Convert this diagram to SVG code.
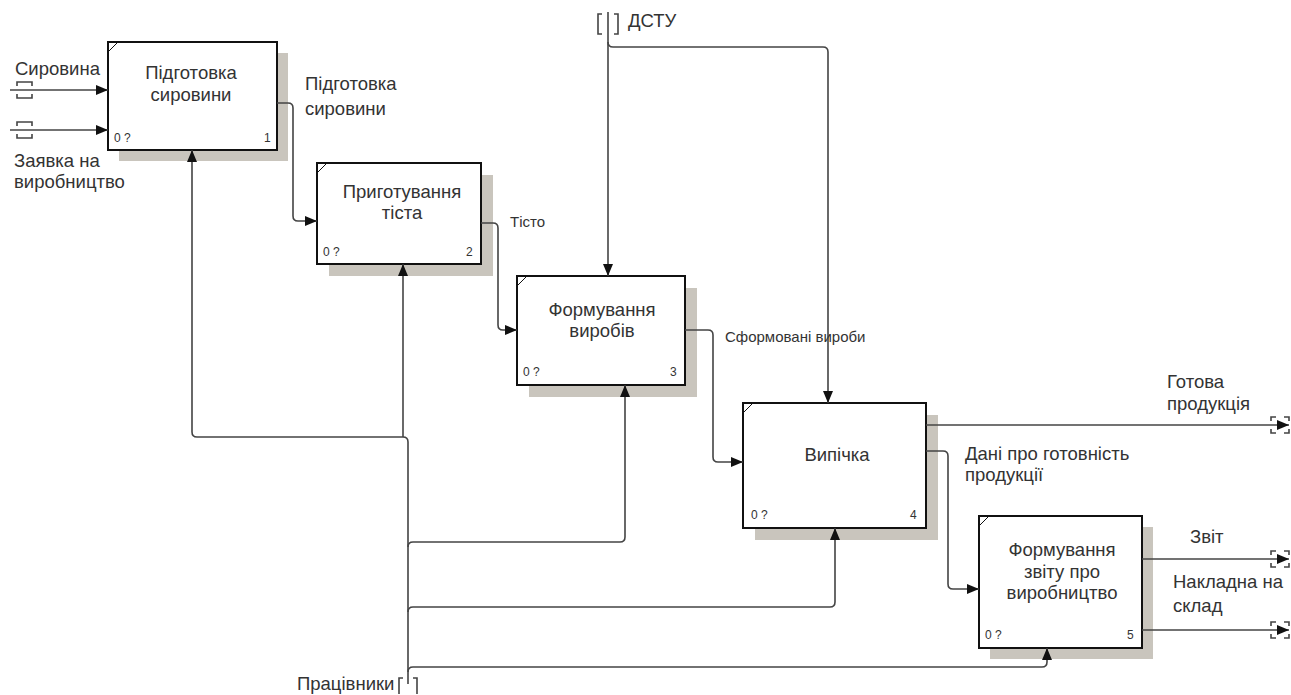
<svg xmlns="http://www.w3.org/2000/svg" width="1291" height="695" viewBox="0 0 1291 695">
  <defs>
    <marker id="arrow" viewBox="0 0 12 10" refX="12" refY="5" markerWidth="12" markerHeight="10" markerUnits="userSpaceOnUse" orient="auto">
      <path d="M0,0 L12,5 L0,10 Z" fill="#111"/>
    </marker>
    <style>
      .shadow { fill: #c9c5bd; }
      .box { fill: #ffffff; stroke: #111; stroke-width: 2; }
      .corner { fill: none; stroke: #111; stroke-width: 1; }
      .title { font-family: "Liberation Sans", Arial, sans-serif; font-size: 18.5px; fill: #333; text-anchor: middle; }
      .num { font-family: "Liberation Sans", Arial, sans-serif; font-size: 12px; fill: #333; }
      .lbl { font-family: "Liberation Sans", Arial, sans-serif; font-size: 18.5px; fill: #333; }
      .small { font-family: "Liberation Sans", Arial, sans-serif; font-size: 15px; fill: #333; }
      .wire { fill: none; stroke: #444; stroke-width: 1.6; }
      .arr { marker-end: url(#arrow); }
      .tun { fill: none; stroke: #444; stroke-width: 1.6; }
    </style>
  </defs>

  <rect width="1291" height="695" fill="#ffffff"/>

  <!-- A1 -->
  <g id="node-a1">
    <rect class="shadow" x="119" y="53" width="169" height="108"/>
    <rect class="box" x="108" y="42" width="169" height="108"/>
    <path class="corner" d="M109,51 L117,43"/>
    <text class="title" x="191" y="79">Підготовка</text>
    <text class="title" x="191" y="101">сировини</text>
    <text class="num" x="114" y="142">0 ?</text>
    <text class="num" x="264" y="142">1</text>
  </g>

  <!-- A2 -->
  <g id="node-a2">
    <rect class="shadow" x="329" y="175" width="164" height="101"/>
    <rect class="box" x="317" y="163" width="164" height="101"/>
    <path class="corner" d="M318,172 L326,164"/>
    <text class="title" x="402" y="198">Приготування</text>
    <text class="title" x="402" y="219">тіста</text>
    <text class="num" x="323" y="256">0 ?</text>
    <text class="num" x="466" y="256">2</text>
  </g>

  <!-- A3 -->
  <g id="node-a3">
    <rect class="shadow" x="529" y="288" width="168" height="109"/>
    <rect class="box" x="517" y="276" width="168" height="109"/>
    <path class="corner" d="M518,285 L526,277"/>
    <text class="title" x="602" y="316">Формування</text>
    <text class="title" x="602" y="337">виробів</text>
    <text class="num" x="523" y="376">0 ?</text>
    <text class="num" x="670" y="376">3</text>
  </g>

  <!-- A4 -->
  <g id="node-a4">
    <rect class="shadow" x="755" y="415" width="183" height="125"/>
    <rect class="box" x="743" y="403" width="183" height="125"/>
    <path class="corner" d="M744,412 L752,404"/>
    <text class="title" x="837" y="461">Випічка</text>
    <text class="num" x="751" y="519">0 ?</text>
    <text class="num" x="910" y="519">4</text>
  </g>

  <!-- A5 -->
  <g id="node-a5">
    <rect class="shadow" x="990" y="527" width="163" height="132"/>
    <rect class="box" x="979" y="516" width="163" height="132"/>
    <path class="corner" d="M980,525 L988,517"/>
    <text class="title" x="1062" y="556">Формування</text>
    <text class="title" x="1062" y="578">звіту про</text>
    <text class="title" x="1062" y="599">виробництво</text>
    <text class="num" x="985" y="639">0 ?</text>
    <text class="num" x="1127" y="639">5</text>
  </g>

  <!-- connectors -->
  <g id="connectors">
    <!-- inputs to A1 -->
    <path class="wire arr" d="M10,90 H108"/>
    <path class="wire arr" d="M10,130 H108"/>
    <path class="tun" d="M17,86 V82 H32 V86 M17,94 V98 H32 V94"/>
    <path class="tun" d="M17,126 V122 H32 V126 M17,134 V138 H32 V134"/>

    <!-- A1 -> A2 -->
    <path class="wire arr" d="M277,103 H288 Q293,103 293,108 V216 Q293,221 298,221 H317"/>
    <!-- A2 -> A3 -->
    <path class="wire arr" d="M481,223 H493 Q498,223 498,228 V325 Q498,330 503,330 H517"/>
    <!-- A3 -> A4 -->
    <path class="wire arr" d="M685,330 H708 Q713,330 713,335 V457 Q713,462 718,462 H743"/>
    <!-- A4 outputs -->
    <path class="wire arr" d="M926,425 H1289"/>
    <path class="wire arr" d="M926,451 H943 Q948,451 948,456 V584 Q948,589 953,589 H979"/>
    <!-- A5 outputs -->
    <path class="wire arr" d="M1142,559 H1289"/>
    <path class="wire arr" d="M1142,630 H1289"/>
    <path class="tun" d="M1276,417 H1271 V421 M1271,429 V433 H1276 M1284,417 H1289 V421 M1289,429 V433 H1284"/>
    <path class="tun" d="M1276,551 H1271 V555 M1271,563 V567 H1276 M1284,551 H1289 V555 M1289,563 V567 H1284"/>
    <path class="tun" d="M1276,622 H1271 V626 M1271,634 V638 H1276 M1284,622 H1289 V626 M1289,634 V638 H1284"/>

    <!-- control: ДСТУ -->
    <path class="wire arr" d="M608,12 V276"/>
    <path class="wire arr" d="M608,42 Q608,47 613,47 H823 Q828,47 828,52 V403"/>
    <path class="tun" d="M602,14 H598 V34 H602 M614,14 H618 V34 H614"/>

    <!-- mechanism: Працівники -->
    <path class="wire arr" d="M408,684 V442 Q408,437 403,437 H197 Q192,437 192,432 V150"/>
    <path class="wire arr" d="M403,437 V264"/>
    <path class="wire arr" d="M408,547 Q408,542 413,542 H620 Q625,542 625,537 V385"/>
    <path class="wire arr" d="M408,612 Q408,607 413,607 H830 Q835,607 835,602 V528"/>
    <path class="wire arr" d="M408,672 Q408,667 413,667 H1042 Q1047,667 1047,662 V648"/>
    <path class="tun" d="M403,678 H399 V694 M413,678 H417 V694"/>
  </g>

  <!-- arrow labels -->
  <g id="labels">
    <text class="lbl" x="15" y="75">Сировина</text>
    <text class="lbl" x="14" y="167">Заявка на</text>
    <text class="lbl" x="14" y="188">виробництво</text>
    <text class="lbl" x="305" y="90">Підготовка</text>
    <text class="lbl" x="305" y="115">сировини</text>
    <text class="small" x="510" y="227">Тісто</text>
    <text class="small" x="725" y="342">Сформовані вироби</text>
    <text class="lbl" x="628" y="27">ДСТУ</text>
    <text class="lbl" x="1167" y="388">Готова</text>
    <text class="lbl" x="1167" y="410">продукція</text>
    <text class="lbl" x="965" y="460">Дані про готовність</text>
    <text class="lbl" x="965" y="481">продукції</text>
    <text class="lbl" x="1190" y="543">Звіт</text>
    <text class="lbl" x="1173" y="588">Накладна на</text>
    <text class="lbl" x="1173" y="612">склад</text>
    <text class="lbl" x="297" y="690">Працівники</text>
  </g>
</svg>
